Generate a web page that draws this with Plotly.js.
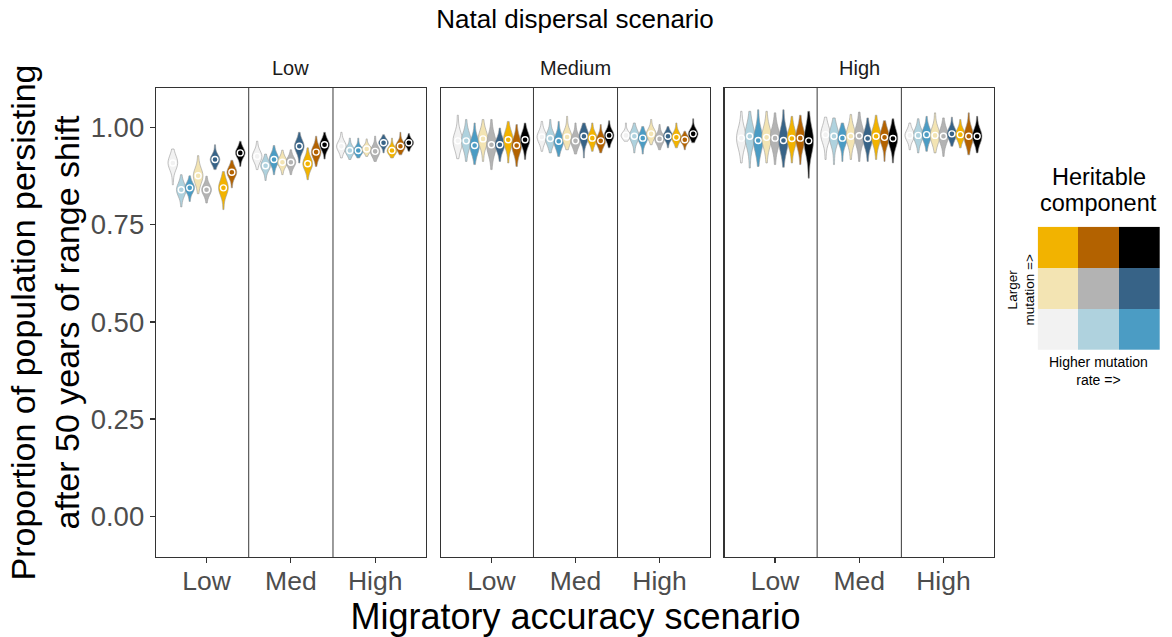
<!DOCTYPE html>
<html>
<head>
<meta charset="utf-8">
<script src="https://cdn.plot.ly/plotly-3.0.1.min.js"></script>
<style>html,body{margin:0;padding:0;background:#fff;}#chart{width:1172px;height:637px;}</style>
</head>
<body>
<div id="chart"></div>
<script>
// ---- categories ----
const natalLevels = ['Low', 'Medium', 'High'];          // facet panels
const migLevels = ['Low', 'Med', 'High'];                // x categories
const migPositions = [1, 2, 3];
const heritColors = ['#f2f2f2', '#afd2de', '#4b9cc4',    // small mutation: low -> high rate
                     '#f3e4b3', '#b3b3b3', '#376387',    // medium mutation
                     '#f2b300', '#b36200', '#000000'];   // large mutation
const yTicks = [0, 0.25, 0.5, 0.75, 1];
const separators = [1.5, 2.5];

// ---- values: 9 heritable components per migratory level (Low, Med, High) ----
// Natal dispersal = Low
const medNatalLow = [0.909, 0.840, 0.845, 0.876, 0.840, 0.918, 0.845, 0.885, 0.935,
                     0.926, 0.902, 0.918, 0.911, 0.911, 0.952, 0.907, 0.937, 0.956,
                     0.952, 0.941, 0.941, 0.945, 0.939, 0.961, 0.941, 0.952, 0.961];
const loNatalLow  = [0.853, 0.796, 0.810, 0.830, 0.806, 0.892, 0.789, 0.845, 0.900,
                     0.892, 0.864, 0.879, 0.879, 0.879, 0.909, 0.866, 0.900, 0.919,
                     0.922, 0.918, 0.922, 0.926, 0.913, 0.935, 0.922, 0.930, 0.939];
const hiNatalLow  = [0.945, 0.879, 0.876, 0.928, 0.875, 0.956, 0.887, 0.916, 0.965,
                     0.965, 0.932, 0.954, 0.942, 0.943, 0.988, 0.948, 0.978, 0.988,
                     0.988, 0.973, 0.973, 0.971, 0.978, 0.982, 0.973, 0.988, 0.985];
// Natal dispersal = Medium
const medNatalMed = [0.966, 0.966, 0.954, 0.971, 0.956, 0.956, 0.969, 0.954, 0.969,
                     0.976, 0.972, 0.965, 0.976, 0.966, 0.978, 0.973, 0.966, 0.980,
                     0.980, 0.978, 0.973, 0.984, 0.971, 0.978, 0.975, 0.969, 0.984];
const loNatalMed  = [0.920, 0.913, 0.905, 0.913, 0.892, 0.913, 0.909, 0.900, 0.918,
                     0.939, 0.935, 0.926, 0.943, 0.932, 0.922, 0.939, 0.935, 0.948,
                     0.965, 0.935, 0.932, 0.956, 0.943, 0.948, 0.948, 0.943, 0.961];
const hiNatalMed  = [1.032, 1.021, 1.012, 1.021, 1.021, 0.999, 1.016, 1.008, 1.012,
                     1.016, 1.021, 1.016, 1.029, 1.012, 1.012, 1.012, 1.008, 1.018,
                     1.012, 1.012, 1.003, 1.021, 1.008, 1.003, 1.012, 0.991, 1.023];
// Natal dispersal = High
const medNatalHigh = [0.973, 0.978, 0.967, 0.975, 0.973, 0.967, 0.972, 0.973, 0.966,
                      0.982, 0.978, 0.973, 0.978, 0.979, 0.972, 0.978, 0.975, 0.972,
                      0.980, 0.980, 0.982, 0.980, 0.978, 0.984, 0.982, 0.978, 0.978];
const loNatalHigh  = [0.909, 0.896, 0.900, 0.909, 0.905, 0.898, 0.909, 0.905, 0.870,
                      0.918, 0.905, 0.913, 0.918, 0.913, 0.913, 0.918, 0.913, 0.909,
                      0.943, 0.935, 0.939, 0.935, 0.926, 0.952, 0.948, 0.930, 0.935];
const hiNatalHigh  = [1.042, 1.042, 1.046, 1.042, 1.038, 1.046, 1.029, 1.032, 1.042,
                      1.027, 1.025, 1.012, 1.034, 1.040, 1.025, 1.032, 1.018, 1.023,
                      1.012, 1.023, 1.029, 1.038, 1.025, 1.027, 1.021, 1.038, 1.029];

const panels = [
  {med: medNatalLow,  lo: loNatalLow,  hi: hiNatalLow},
  {med: medNatalMed,  lo: loNatalMed,  hi: hiNatalMed},
  {med: medNatalHigh, lo: loNatalHigh, hi: hiNatalHigh}
];

// ---- layout constants ----
const W = 1172, H = 637;
const mL = 156, mR = 12, mT = 88, mB = 80;
const plotW = W - mL - mR, plotH = H - mT - mB;
const px2x = p => (p - mL) / plotW;
const px2y = p => (H - mB - p) / plotH;
const panelPx = [[155.7, 425.7], [441, 710], [724.5, 994]];
const nHerit = heritColors.length;
const slot = 0.9 / nHerit;
const medianWeight = 10;

const FONT = 'Liberation Sans, Arial, Helvetica, sans-serif';
const traces = [];

panels.forEach((pd, p) => {
  const xa = p === 0 ? 'x' : 'x' + (p + 1);
  const ya = p === 0 ? 'y' : 'y' + (p + 1);
  const mx = [], my = [];
  migPositions.forEach((g, gi) => {
    for (let k = 0; k < nHerit; k++) {
      const i = gi * nHerit + k;
      const xpos = g + (k - (nHerit - 1) / 2) * slot;
      const lo = pd.lo[i], med = pd.med[i], hi = pd.hi[i];
      const samples = [lo].concat(Array(medianWeight).fill(med), [hi]);
      const bw = 0.4 * ((med - lo) + (hi - med)) / 2;
      traces.push({
        type: 'violin', xaxis: xa, yaxis: ya,
        x: samples.map(() => xpos), y: samples,
        width: 0.115, bandwidth: bw, spanmode: 'manual', span: [lo, hi],
        points: false, box: {visible: false}, meanline: {visible: false},
        fillcolor: heritColors[k], line: {color: '#9a9a9a', width: 0.6},
        opacity: 1, showlegend: false, hoverinfo: 'skip'
      });
      mx.push(xpos); my.push(med);
    }
  });
  traces.push({
    type: 'scatter', mode: 'markers', xaxis: xa, yaxis: ya, x: mx, y: my,
    marker: {symbol: 'circle-open', size: 6, color: '#ffffff', line: {width: 1.4}},
    showlegend: false, hoverinfo: 'skip'
  });
});

// legend as a 3x3 heatmap
const legendZ = [[0, 1, 2], [3, 4, 5], [6, 7, 8]];
const legendScale = [];
heritColors.forEach((c, k) => {
  legendScale.push([Math.max(0, (k - 0.5) / (nHerit - 1)), c]);
  legendScale.push([Math.min(1, (k + 0.5) / (nHerit - 1)), c]);
});
traces.push({
  type: 'heatmap', xaxis: 'x4', yaxis: 'y4', z: legendZ, x: [0, 1, 2], y: [0, 1, 2],
  zmin: 0, zmax: nHerit - 1, colorscale: legendScale, showscale: false, hoverinfo: 'skip'
});

const layout = {
  width: W, height: H,
  margin: {l: mL, r: mR, t: mT, b: mB},
  paper_bgcolor: '#ffffff', plot_bgcolor: '#ffffff',
  font: {family: FONT, color: '#000000'},
  showlegend: false,
  title: {text: 'Natal dispersal scenario', font: {size: 26, color: '#000'},
          x: px2x(575), xref: 'paper', xanchor: 'center', y: 1 - 19 / H, yref: 'container', yanchor: 'middle'},
  annotations: [],
  shapes: []
};

for (let p = 0; p < 3; p++) {
  const suf = p === 0 ? '' : String(p + 1);
  layout['xaxis' + suf] = {
    domain: [px2x(panelPx[p][0]), px2x(panelPx[p][1])],
    anchor: 'y' + suf, range: [0.4, 3.6],
    tickmode: 'array', tickvals: migPositions, ticktext: migLevels,
    ticks: 'outside', ticklen: 5, tickwidth: 1.2, tickcolor: '#333333',
    ticklabelstandoff: -5,
    tickfont: {size: 26.5, color: '#4d4d4d'},
    showline: true, mirror: true, linecolor: '#333333', linewidth: 1.3,
    showgrid: false, zeroline: false, fixedrange: true
  };
  layout['yaxis' + suf] = {
    domain: [0, 1], anchor: 'x' + suf, range: [-0.105, 1.102],
    tickmode: 'array', tickvals: yTicks, tickformat: '.2f',
    ticks: p === 0 ? 'outside' : '', ticklen: 5, tickwidth: 1.2, tickcolor: '#333333',
    showticklabels: p === 0,
    tickfont: {size: 27.5, color: '#4d4d4d'},
    showline: true, mirror: true, linecolor: '#333333', linewidth: 1.3,
    showgrid: false, zeroline: false, fixedrange: true
  };
  separators.forEach(s => {
    layout.shapes.push({type: 'line', xref: 'x' + suf, yref: 'y' + suf + ' domain',
      x0: s, x1: s, y0: 0, y1: 1, line: {color: '#222222', width: 0.9}, layer: 'below'});
  });
  layout.annotations.push({text: natalLevels[p], xref: 'x' + suf + ' domain', x: 0.5,
    yref: 'paper', y: px2y(68), yanchor: 'middle', showarrow: false, font: {size: 20, color: '#1a1a1a'}});
}
layout.yaxis.title = {text: 'Proportion of population persisting<br>after 50 years of range shift',
  font: {size: 34, color: '#000'}, standoff: 0};
layout.xaxis2.title = {text: 'Migratory accuracy scenario', font: {size: 36, color: '#000'}, standoff: 2};

layout.xaxis4 = {domain: [px2x(1037.7), 1], anchor: 'y4', visible: false, range: [-0.5, 2.5], fixedrange: true};
layout.yaxis4 = {domain: [px2y(350), px2y(226.7)], anchor: 'x4', visible: false, range: [-0.5, 2.5], fixedrange: true};

layout.annotations.push(
  {text: 'Heritable', xref: 'paper', yref: 'paper', x: px2x(1098.9), y: px2y(177),
   xanchor: 'center', yanchor: 'middle', showarrow: false, font: {size: 23.5, color: '#000'}},
  {text: 'component', xref: 'paper', yref: 'paper', x: px2x(1098.9), y: px2y(203),
   xanchor: 'center', yanchor: 'middle', showarrow: false, font: {size: 23.5, color: '#000'}},
  {text: 'Larger<br>mutation =>', xref: 'paper', yref: 'paper', x: px2x(1020.5), y: px2y(290),
   xanchor: 'center', yanchor: 'middle', textangle: -90, showarrow: false, font: {size: 13.5, color: '#000'}},
  {text: 'Higher mutation<br>rate =>', xref: 'paper', yref: 'paper', x: px2x(1098.9), y: px2y(370.5),
   xanchor: 'center', yanchor: 'middle', showarrow: false, font: {size: 14, color: '#000'}}
);

Plotly.newPlot('chart', traces, layout, {displayModeBar: false, staticPlot: true});
</script>
</body>
</html>
